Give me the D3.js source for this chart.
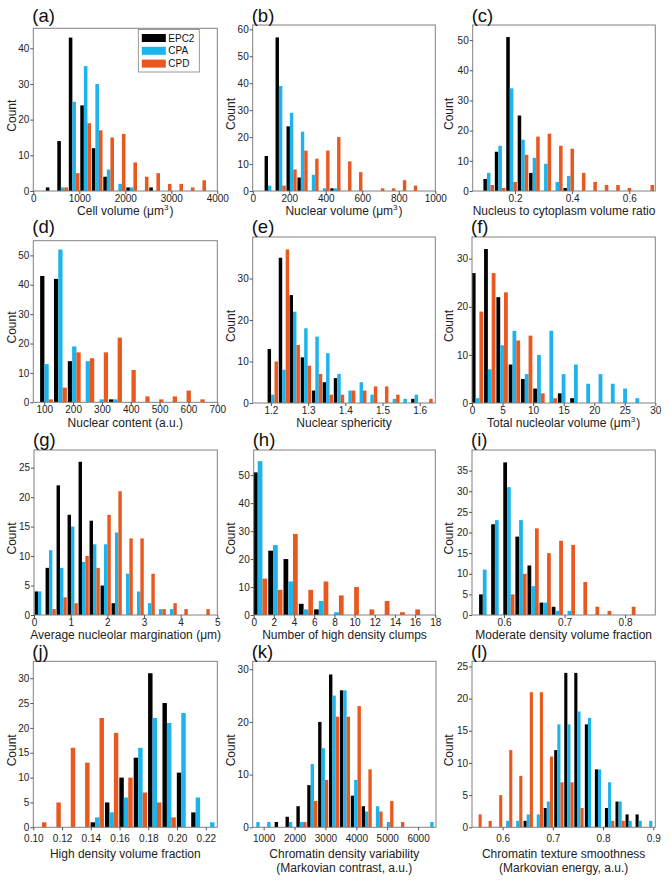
<!DOCTYPE html>
<html><head><meta charset="utf-8">
<script src="https://cdn.jsdelivr.net/npm/d3@7"></script>
<style>body{margin:0;background:#fff}svg{display:block}text{font-family:"Liberation Sans",Arial,sans-serif}</style>
</head><body><div id="chart"></div>
<script>
// ---------- DATA ----------
const seriesNames = ["EPC2", "CPA", "CPD"];
const seriesColors = ["#000000", "#1cb4ec", "#e8581f"];

// (a) Cell volume
const aBins = [388, 638, 888, 1138, 1388, 1638, 1888, 2138, 2388, 2638, 2888, 3138, 3388, 3638];
const aEPC2 = [1, 14, 43, 24, 12, 4, 0, 1, 0, 1, 0, 0, 0, 0];
const aCPA  = [0, 1, 25, 35, 30, 6, 2, 1, 0, 0, 0, 0, 0, 0];
const aCPD  = [0, 1, 5, 19, 17, 15, 16, 8, 4, 5, 2, 2, 1, 3];
// (b) Nuclear volume
const bBins = [93, 153, 213, 273, 333, 393, 453, 513, 573, 633, 693, 753, 813, 873];
const bEPC2 = [13, 57, 24, 5, 0, 0, 1, 0, 0, 0, 0, 0, 0, 0];
const bCPA  = [2, 39, 29, 22, 6, 1, 1, 0, 0, 0, 0, 0, 0, 0];
const bCPD  = [0, 2, 8, 15, 12, 15, 20, 11, 7, 0, 1, 1, 4, 2];
// (c) Nucleus to cytoplasm volume ratio
const cBins = [0.108, 0.148, 0.188, 0.228, 0.268, 0.308, 0.348, 0.388, 0.428, 0.468, 0.508, 0.548, 0.588, 0.628, 0.668];
const cEPC2 = [4, 13, 51, 25, 6, 0, 0, 1, 0, 0, 0, 0, 0, 0, 0];
const cCPA  = [6, 15, 34, 17, 11, 9, 3, 5, 0, 0, 0, 0, 0, 0, 0];
const cCPD  = [2, 1, 3, 12, 18, 19, 15, 14, 6, 3, 2, 2, 1, 0, 2];
// (d) Nuclear content
const dBins = [108, 156, 204, 251, 299, 347, 395, 443, 491, 538, 586, 634];
const dEPC2 = [43, 42, 14, 0, 0, 1, 0, 0, 0, 0, 0, 0];
const dCPA  = [13, 52, 19, 14, 1, 1, 0, 0, 0, 0, 0, 0];
const dCPD  = [1, 5, 17, 15, 17, 22, 11, 2, 1, 2, 4, 1];
// (e) Nuclear sphericity
const eBins = [1.205, 1.235, 1.264, 1.294, 1.324, 1.353, 1.383, 1.413, 1.443, 1.472, 1.502, 1.532, 1.561, 1.591, 1.621];
const eEPC2 = [13, 35, 26, 11, 3, 5, 6, 0, 0, 0, 0, 0, 0, 1, 0];
const eCPA  = [2, 8, 22, 18, 16, 12, 7, 3, 5, 2, 0, 1, 1, 2, 0];
const eCPD  = [10, 37, 14, 9, 7, 2, 2, 3, 3, 4, 4, 2, 0, 0, 1];
// (f) Total nucleolar volume
const fBins = [0.9, 2.91, 4.93, 6.94, 8.95, 10.96, 12.98, 14.99, 17.0, 19.01, 21.03, 23.04, 25.05, 27.06];
const fEPC2 = [27, 32, 22, 8, 5, 3, 0, 2, 1, 0, 0, 0, 0, 0];
const fCPA  = [1, 7, 12, 15, 6, 10, 15, 6, 8, 4, 6, 4, 3, 1];
const fCPD  = [19, 27, 23, 13, 14, 2, 1, 0, 0, 0, 0, 0, 0, 0];
// (g) Average nucleolar margination
const gBins = [0.155, 0.455, 0.755, 1.055, 1.355, 1.655, 1.955, 2.255, 2.555, 2.855, 3.155, 3.455, 3.755, 4.055, 4.355, 4.655];
const gEPC2 = [4, 8, 22, 17, 26, 16, 5, 2, 0, 0, 0, 0, 0, 0, 0, 0];
const gCPA  = [4, 11, 8, 15, 9, 12, 12, 14, 7, 4, 2, 1, 1, 0, 0, 0];
const gCPD  = [0, 1, 3, 2, 10, 8, 17, 21, 13, 13, 7, 1, 2, 1, 0, 1];
// (h) Number of high density clumps
const hBins = [0.63, 2.15, 3.66, 5.18, 6.69, 8.21, 9.72, 11.24, 12.75, 14.27, 15.78];
const hEPC2 = [51, 23, 20, 4, 2, 0, 0, 0, 0, 0, 0];
const hCPA  = [55, 25, 12, 2, 5, 1, 0, 0, 0, 0, 0];
const hCPD  = [13, 9, 29, 9, 12, 7, 10, 2, 5, 1, 2];
// (i) Moderate density volume fraction
const iBins = [0.568, 0.588, 0.608, 0.628, 0.648, 0.668, 0.688, 0.708, 0.728, 0.748, 0.768, 0.788, 0.808];
const iEPC2 = [5, 22, 37, 19, 12, 3, 2, 0, 0, 0, 0, 0, 0];
const iCPA  = [11, 23, 31, 23, 7, 3, 1, 1, 0, 0, 0, 0, 0];
const iCPD  = [0, 0, 5, 10, 21, 15, 18, 17, 8, 2, 1, 0, 2];
// (j) High density volume fraction
const jBins = [0.1045, 0.1145, 0.1245, 0.1345, 0.1445, 0.1545, 0.1645, 0.1745, 0.1845, 0.1945, 0.2045, 0.2145, 0.2245];
const jEPC2 = [0, 0, 0, 0, 1, 5, 10, 14, 31, 25, 11, 3, 0];
const jCPA  = [0, 0, 0, 0, 2, 3, 6, 16, 22, 21, 23, 6, 1];
const jCPD  = [1, 5, 16, 13, 22, 19, 10, 7, 5, 2, 0, 0, 0];
// (k) Chromatin density variability
const kBins = [816, 1168, 1520, 1872, 2224, 2576, 2928, 3280, 3632, 3984, 4336, 4688, 5040, 5392, 5744, 6096, 6448];
const kEPC2 = [0, 0, 1, 2, 4, 8, 20, 29, 26, 6, 4, 0, 0, 0, 0, 0, 0];
const kCPA  = [1, 1, 0, 1, 1, 12, 15, 25, 26, 9, 3, 4, 1, 0, 0, 0, 1];
const kCPD  = [0, 0, 0, 0, 1, 5, 9, 21, 21, 23, 11, 3, 5, 1, 0, 0, 0];
// (l) Chromatin texture smoothness
const lBins = [0.549, 0.569, 0.590, 0.610, 0.630, 0.651, 0.671, 0.691, 0.712, 0.732, 0.752, 0.773, 0.793, 0.813, 0.834, 0.854, 0.874, 0.895];
const lEPC2 = [0, 0, 0, 0, 0, 1, 0, 3, 12, 24, 24, 16, 9, 3, 4, 2, 2, 0];
const lCPA  = [0, 0, 0, 1, 1, 2, 2, 4, 16, 16, 18, 17, 9, 7, 4, 1, 1, 1];
const lCPD  = [2, 1, 5, 12, 8, 21, 21, 11, 7, 7, 3, 0, 0, 1, 1, 0, 0, 0];

// tick labels
const aXTicks = [0, 1000, 2000, 3000, 4000], aYTicks = [0, 10, 20, 30, 40];
const bXTicks = [0, 200, 400, 600, 800, 1000], bYTicks = [0, 10, 20, 30, 40, 50, 60];
const cXTicks = [0.2, 0.4, 0.6], cYTicks = [0, 10, 20, 30, 40, 50];
const dXTicks = [100, 200, 300, 400, 500, 600, 700], dYTicks = [0, 10, 20, 30, 40, 50];
const eXTicks = [1.2, 1.3, 1.4, 1.5, 1.6], eYTicks = [0, 10, 20, 30];
const fXTicks = [0, 5, 10, 15, 20, 25, 30], fYTicks = [0, 10, 20, 30];
const gXTicks = [0, 1, 2, 3, 4, 5], gYTicks = [0, 5, 10, 15, 20, 25];
const hXTicks = [0, 2, 4, 6, 8, 10, 12, 14, 16, 18], hYTicks = [0, 10, 20, 30, 40, 50];
const iXTicks = [0.6, 0.7, 0.8], iYTicks = [0, 5, 10, 15, 20, 25, 30, 35];
const jXTicks = [0.10, 0.12, 0.14, 0.16, 0.18, 0.20, 0.22], jYTicks = [0, 5, 10, 15, 20, 25, 30];
const kXTicks = [1000, 2000, 3000, 4000, 5000, 6000], kYTicks = [0, 10, 20, 30];
const lXTicks = [0.6, 0.7, 0.8, 0.9], lYTicks = [0, 5, 10, 15, 20, 25];

// ---------- PANELS ----------
const panels = [
  {label: "(a)", bins: aBins, values: [aEPC2, aCPA, aCPD], xd: [0, 4000], ym: 45.6, xt: aXTicks, yt: aYTicks, fmt: "d",
   title: [[{t: "Cell volume ("}, {t: "\u03bcm"}, {t: "3", sup: true}, {t: ")"}]], legend: true},
  {label: "(b)", bins: bBins, values: [bEPC2, bCPA, bCPD], xd: [0, 1000], ym: 61.6, xt: bXTicks, yt: bYTicks, fmt: "d",
   title: [[{t: "Nuclear volume ("}, {t: "\u03bcm"}, {t: "3", sup: true}, {t: ")"}]]},
  {label: "(c)", bins: cBins, values: [cEPC2, cCPA, cCPD], xd: [0.052, 0.691], ym: 55, xt: cXTicks, yt: cYTicks, fmt: ".1f",
   title: [[{t: "Nucleus to cytoplasm volume ratio"}]]},
  {label: "(d)", bins: dBins, values: [dEPC2, dCPA, dCPD], xd: [62, 700], ym: 55, xt: dXTicks, yt: dYTicks, fmt: "d",
   title: [[{t: "Nuclear content (a.u.)"}]]},
  {label: "(e)", bins: eBins, values: [eEPC2, eCPA, eCPD], xd: [1.151, 1.642], ym: 40, xt: eXTicks, yt: eYTicks, fmt: ".1f",
   title: [[{t: "Nuclear sphericity"}]]},
  {label: "(f)", bins: fBins, values: [fEPC2, fCPA, fCPD], xd: [0, 30], ym: 34.5, xt: fXTicks, yt: fYTicks, fmt: "d",
   title: [[{t: "Total nucleolar volume ("}, {t: "\u03bcm"}, {t: "3", sup: true}, {t: ")"}]]},
  {label: "(g)", bins: gBins, values: [gEPC2, gCPA, gCPD], xd: [0, 5], ym: 28, xt: gXTicks, yt: gYTicks, fmt: "d",
   title: [[{t: "Average nucleolar margination (\u03bcm)"}]]},
  {label: "(h)", bins: hBins, values: [hEPC2, hCPA, hCPD], xd: [0, 18], ym: 59, xt: hXTicks, yt: hYTicks, fmt: "d",
   title: [[{t: "Number of high density clumps"}]]},
  {label: "(i)", bins: iBins, values: [iEPC2, iCPA, iCPD], xd: [0.547, 0.85], ym: 40, xt: iXTicks, yt: iYTicks, fmt: ".1f",
   title: [[{t: "Moderate density volume fraction"}]]},
  {label: "(j)", bins: jBins, values: [jEPC2, jCPA, jCPD], xd: [0.10, 0.228], ym: 33.4, xt: jXTicks, yt: jYTicks, fmt: ".2f",
   title: [[{t: "High density volume fraction"}]]},
  {label: "(k)", bins: kBins, values: [kEPC2, kCPA, kCPD], xd: [645, 6580], ym: 31.5, xt: kXTicks, yt: kYTicks, fmt: "d",
   title: [[{t: "Chromatin density variability"}], [{t: "(Markovian contrast, a.u.)"}]]},
  {label: "(l)", bins: lBins, values: [lEPC2, lCPA, lCPD], xd: [0.539, 0.904], ym: 25.8, xt: lXTicks, yt: lYTicks, fmt: ".1f",
   title: [[{t: "Chromatin texture smoothness"}], [{t: "(Markovian energy, a.u.)"}]]}
];

// ---------- LAYOUT (pixels) ----------
const frames = [
  [33.3, 217.3, 28.3, 191], [252.7, 435.3, 25, 191], [472.7, 655.3, 25, 191],
  [33.3, 217.3, 240.7, 402.3], [252.7, 435.3, 237, 403], [472, 655.3, 237, 403],
  [34, 217.3, 450, 615], [253.7, 435.3, 450, 615], [472, 655.3, 450, 615],
  [33.3, 217.3, 661.3, 827.3], [252.7, 436, 661.3, 827.3], [472, 655.3, 661.3, 827.3]
];
const labelBase = [21.5, 21.5, 21.5, 233, 233, 233, 445.5, 445.5, 445.5, 658, 658, 658];
const titleBase = [215, 215, 215, 427, 427, 427, 639, 639, 639, 857.5, 857.5, 857.5];
const xPad = [1, 1, 1, 1, 1, 1, 1, 1, 1, 4.5, 4.5, 4.5];
const countX = [12, 231, 449];

const svg = d3.select("#chart").append("svg").attr("width", 671).attr("height", 882);

panels.forEach((p, idx) => {
  const [x0, x1, y0, y1] = frames[idx];
  const x = d3.scaleLinear().domain(p.xd).range([x0, x1]);
  const y = d3.scaleLinear().domain([0, p.ym]).range([y1, y0]);
  const g = svg.append("g");
  const bw = p.bins[1] - p.bins[0];
  const sub = bw * 0.31;

  const clipId = "clip" + idx;
  svg.append("clipPath").attr("id", clipId).append("rect")
    .attr("x", x0).attr("y", y0).attr("width", x1 - x0).attr("height", y1 - y0);

  const bars = g.append("g").attr("clip-path", `url(#${clipId})`);
  p.values.forEach((vals, si) => {
    const recs = p.bins.map((b, bi) => ({c: b + (si - 1) * sub, v: vals[bi]})).filter(d => d.v > 0);
    bars.selectAll(null).data(recs).enter().append("rect")
      .attr("x", d => x(d.c - sub / 2))
      .attr("width", d => x(d.c + sub / 2) - x(d.c - sub / 2))
      .attr("y", d => y(d.v))
      .attr("height", d => y(0) - y(d.v))
      .attr("fill", seriesColors[si]);
  });

  // frame
  g.append("rect").attr("x", x0).attr("y", y0).attr("width", x1 - x0).attr("height", y1 - y0)
    .attr("fill", "none").attr("stroke", "#808080").attr("stroke-width", 1);

  const xa = g.append("g").attr("transform", `translate(0,${y1})`)
    .call(d3.axisBottom(x).tickValues(p.xt).tickFormat(d3.format(p.fmt)).tickSize(3).tickSizeOuter(0).tickPadding(xPad[idx]));
  const ya = g.append("g").attr("transform", `translate(${x0},0)`)
    .call(d3.axisLeft(y).tickValues(p.yt).tickFormat(d3.format("d")).tickSize(3).tickSizeOuter(0).tickPadding(1));
  [xa, ya].forEach(a => {
    a.select(".domain").remove();
    a.selectAll("line").attr("stroke", "#555");
    a.selectAll("text").attr("fill", "#222").style("font-size", "10px")
      .style("font-family", '"Liberation Sans", Arial, sans-serif');
  });

  // panel label
  svg.append("text").attr("x", x0 - 1).attr("y", labelBase[idx]).text(p.label)
    .style("font-size", "18.5px").attr("fill", "#111");

  // x title
  p.title.forEach((line, li) => {
    const t = svg.append("text").attr("x", (x0 + x1) / 2).attr("y", titleBase[idx] + li * 14)
      .attr("text-anchor", "middle").style("font-size", "12px").attr("fill", "#222");
    line.forEach(seg => {
      if (seg.sup) {
        t.append("tspan").attr("dy", -5).style("font-size", "8px").text(seg.t);
        t.append("tspan").attr("dy", 5).text("\u200a");
      } else {
        t.append("tspan").text(seg.t);
      }
    });
  });

  // y title
  const cy = (y0 + y1) / 2 + 6;
  svg.append("text").attr("transform", `translate(${countX[idx % 3] + 4},${cy}) rotate(-90)`)
    .attr("text-anchor", "middle").style("font-size", "12px").attr("fill", "#222").text("Count");

  if (p.legend) {
    const lg = svg.append("g");
    lg.append("rect").attr("x", 138.3).attr("y", 29.5).attr("width", 61).attr("height", 42.5)
      .attr("fill", "#fff").attr("stroke", "#808080").attr("stroke-width", 0.8);
    seriesNames.forEach((n, si) => {
      const yy = 38 + si * 12.8;
      lg.append("rect").attr("x", 141.8).attr("y", yy - 4).attr("width", 24).attr("height", 8).attr("fill", seriesColors[si]);
      lg.append("text").attr("x", 168.3).attr("y", yy + 3.6).text(n).style("font-size", "10px").attr("fill", "#111");
    });
  }
});
</script></body></html>
